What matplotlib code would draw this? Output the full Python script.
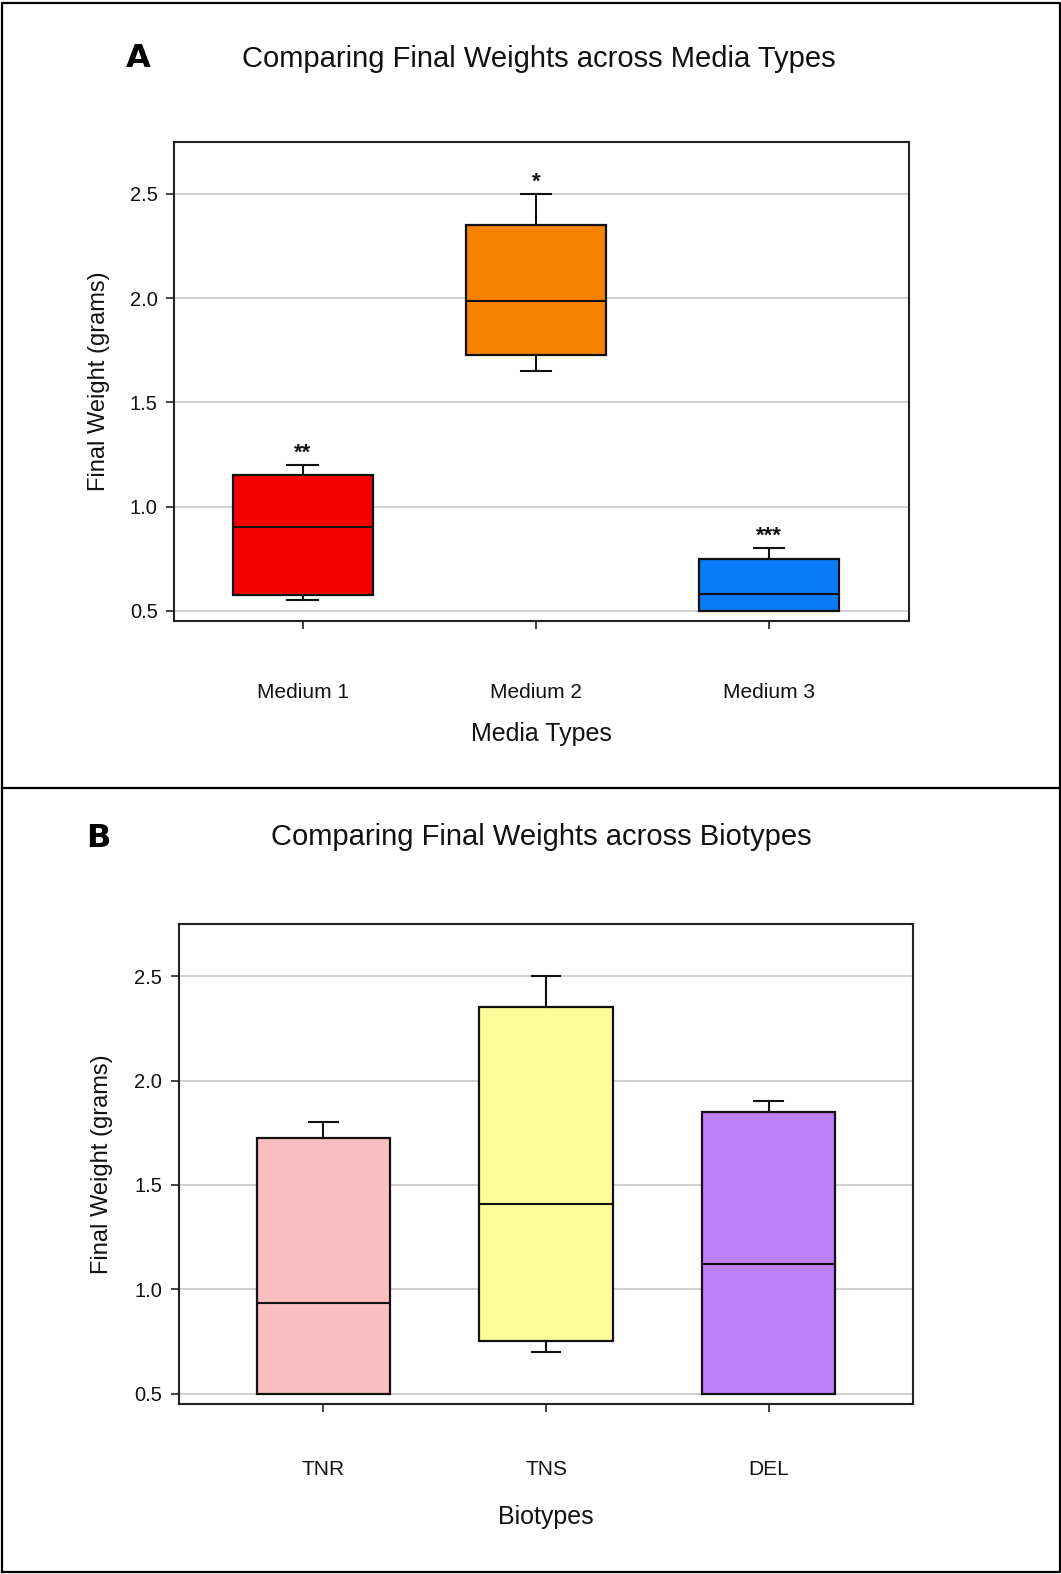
import matplotlib
matplotlib.use('Agg')
import matplotlib.pyplot as plt
from matplotlib.lines import Line2D

plt.rcParams['font.family'] = ['Liberation Sans', 'DejaVu Sans']

# ---------------- data ----------------
media_labels = ['Medium 1', 'Medium 2', 'Medium 3']
media_whislo = [0.55, 1.65, 0.50]
media_q1 = [0.575, 1.725, 0.50]
media_med = [0.90, 1.985, 0.583]
media_q3 = [1.15, 2.35, 0.75]
media_whishi = [1.20, 2.50, 0.80]
media_stars = ['**', '*', '***']
media_colors = ['#f50000', '#f88200', '#0a7cf8']

bio_labels = ['TNR', 'TNS', 'DEL']
bio_whislo = [0.50, 0.70, 0.50]
bio_q1 = [0.50, 0.75, 0.50]
bio_med = [0.935, 1.41, 1.12]
bio_q3 = [1.725, 2.35, 1.85]
bio_whishi = [1.80, 2.50, 1.90]
bio_colors = ['#fbbfbf', '#fdfd99', '#bf80fb']

yticks = [0.5, 1.0, 1.5, 2.0, 2.5]
ytick_labels = ['0.5', '1.0', '1.5', '2.0', '2.5']

W, H = 1061, 1574
fig = plt.figure(figsize=(W / 100, H / 100), dpi=100)

EDGE = '#111111'


def draw(ax, labels, lo, q1, med, q3, hi, colors, xlim, xlabel, xpad, stars=None):
    stats = [dict(label=l, whislo=a, q1=b, med=c, q3=d, whishi=e, fliers=[])
             for l, a, b, c, d, e in zip(labels, lo, q1, med, q3, hi)]
    pos = list(range(1, len(labels) + 1))
    lp = dict(color=EDGE, lw=1.5)
    bp = ax.bxp(stats, positions=pos, widths=0.6, patch_artist=True,
                showfliers=False, capwidths=0.13,
                boxprops=dict(lw=1.6, edgecolor=EDGE),
                medianprops=lp, whiskerprops=lp, capprops=lp, zorder=3)
    for patch, c in zip(bp['boxes'], colors):
        patch.set_facecolor(c)
    for i in range(len(labels)):
        if lo[i] >= q1[i]:
            bp['caps'][2 * i].set_visible(False)
            bp['whiskers'][2 * i].set_visible(False)
    if stars:
        for p, h, s in zip(pos, hi, stars):
            ax.annotate(s, xy=(p, h), xytext=(0, 1), textcoords='offset points',
                        ha='center', va='bottom', fontsize=16, fontweight='bold',
                        color='#111111')
    ax.set_xlim(*xlim)
    ax.set_ylim(0.45, 2.75)
    ax.set_yticks(yticks)
    ax.set_yticklabels(ytick_labels)
    ax.set_xticks(pos)
    ax.set_xticklabels(labels)
    ax.yaxis.grid(True, color='#c8c8c8', lw=1.2, zorder=0)
    ax.set_axisbelow(True)
    for sp in ax.spines.values():
        sp.set_color('#222222')
        sp.set_linewidth(1.5)
    ax.tick_params(axis='x', direction='out', length=5.5, width=1.2,
                   color='#222222', labelsize=15, pad=xpad, labelcolor='#111111')
    ax.tick_params(axis='y', direction='out', length=6, width=1.2,
                   color='#222222', labelsize=14.5, pad=6, labelcolor='#111111')
    ax.set_ylabel('Final Weight (grams)', fontsize=17, color='#111111')
    ax.set_xlabel(xlabel, fontsize=18, color='#111111')
    return bp


axA = fig.add_axes([174.3 / W, 1 - 621.3 / H, (909 - 174.3) / W, (621.3 - 141.7) / H])
draw(axA, media_labels, media_whislo, media_q1, media_med, media_q3, media_whishi,
     media_colors, (0.45, 3.6), 'Media Types', 39, stars=media_stars)
axA.yaxis.set_label_coords(-0.087, 0.5)
axA.xaxis.set_label_coords(0.5, -0.21)

axB = fig.add_axes([178.7 / W, 1 - 1404 / H, (913.3 - 178.7) / W, (1404 - 924) / H])
draw(axB, bio_labels, bio_whislo, bio_q1, bio_med, bio_q3, bio_whishi,
     bio_colors, (0.35, 3.65), 'Biotypes', 34.5)
axB.yaxis.set_label_coords(-0.089, 0.5)
axB.xaxis.set_label_coords(0.5, -0.211)

# titles and panel letters
fig.text(539 / W, 1 - 67 / H, 'Comparing Final Weights across Media Types',
         ha='center', va='baseline', fontsize=21, color='#111111')
fig.text(541 / W, 1 - 845 / H, 'Comparing Final Weights across Biotypes',
         ha='center', va='baseline', fontsize=21, color='#111111')
fig.text(126 / W, 1 - 67 / H, 'A', ha='left', va='baseline', fontsize=23,
         fontweight='heavy', family=['DejaVu Sans'], color='black')
fig.text(86 / W, 1 - 847 / H, 'B', ha='left', va='baseline', fontsize=23,
         fontweight='heavy', family=['DejaVu Sans'], color='black')

# frame around panels
frame_kw = dict(color='black', lw=1.6, transform=fig.transFigure)
x0, x1 = 1.5 / W, 1059.5 / W
y0, y1 = 1 - 1572 / H, 1 - 3 / H
ysep = 1 - 788 / H
fig.add_artist(Line2D([x0, x1, x1, x0, x0], [y0, y0, y1, y1, y0], **frame_kw))
fig.add_artist(Line2D([x0, x1], [ysep, ysep], **frame_kw))

fig.savefig('out.png', dpi=100, facecolor='white')
